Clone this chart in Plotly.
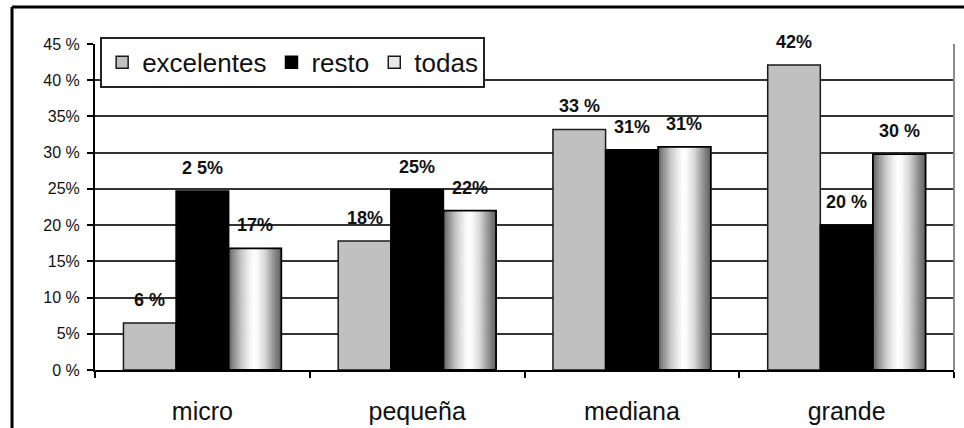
import plotly.graph_objects as go

categories = ["micro", "pequeña", "mediana", "grande"]
excelentes = [6.5, 17.8, 33.2, 42.1]
resto = [24.7, 24.9, 30.4, 20.0]
todas = [16.8, 22.0, 30.8, 29.8]
lab_excelentes = ["6 %", "18%", "33 %", "42%"]
lab_resto = ["2 5%", "25%", "31%", "20 %"]
lab_todas = ["17%", "22%", "31%", "30 %"]
y_ticks = [0, 5, 10, 15, 20, 25, 30, 35, 40, 45]
y_tick_text = ["0 %", "5%", "10 %", "15%", "20 %", "25%", "30 %", "35%", "40 %", "45 %"]

BW = 0.245
OFF = [-1.5 * BW, -0.5 * BW, 0.5 * BW]

# cylinder-like shading profile for "todas" bars (position 0..1 -> grey level)
stops = [(0.0, 90), (0.1, 140), (0.25, 200), (0.4, 240), (0.48, 255), (0.55, 250),
         (0.7, 215), (0.82, 165), (0.92, 125), (1.0, 100)]
N_SLICES = 30


def shade(t):
    for (t0, g0), (t1, g1) in zip(stops[:-1], stops[1:]):
        if t0 <= t <= t1:
            g = g0 + (g1 - g0) * (t - t0) / (t1 - t0)
            g = int(round(g))
            return f"rgb({g},{g},{g})"
    return "rgb(100,100,100)"


FONT = "Liberation Sans, Arial, sans-serif"
fig = go.Figure()

fig.add_trace(go.Bar(x=categories, y=excelentes, name="excelentes", offset=OFF[0], width=BW,
                     marker=dict(color="#c0c0c0", line=dict(color="#1a1a1a", width=1.5))))
fig.add_trace(go.Bar(x=categories, y=resto, name="resto", offset=OFF[1], width=BW,
                     marker=dict(color="#000000", line=dict(color="#000000", width=1.5))))
for k in range(N_SLICES):
    c = shade((k + 0.5) / N_SLICES)
    fig.add_trace(go.Bar(x=categories, y=todas, offset=OFF[2] + k * BW / N_SLICES,
                         width=BW / N_SLICES,
                         marker=dict(color=c, line=dict(color=c, width=1.0)), showlegend=False,
                         hoverinfo="skip"))
fig.add_trace(go.Bar(x=categories, y=todas, name="todas", offset=OFF[2], width=BW,
                     marker=dict(color="rgba(0,0,0,0)", line=dict(color="#000000", width=1.8)),
                     showlegend=False))
# legend entry for todas
fig.add_trace(go.Bar(x=[None], y=[None], name="todas",
                     marker=dict(color="#e8e8e8", line=dict(color="#1a1a1a", width=1.5))))

labels = [(excelentes, lab_excelentes, OFF[0]), (resto, lab_resto, OFF[1]), (todas, lab_todas, OFF[2])]
for vals, labs, off in labels:
    for i, (v, t) in enumerate(zip(vals, labs)):
        fig.add_annotation(x=i + off + BW / 2, y=v, text=t, showarrow=False,
                           xref="x", yref="y", yanchor="bottom", yshift=11,
                           font=dict(family=FONT, size=18, color="#111111", weight="bold"))

# plot area right border
fig.add_shape(type="line", xref="paper", yref="paper", x0=1, x1=1, y0=0, y1=1,
              line=dict(color="#8c8c8c", width=2))
# outer frame (left and top)
fig.add_shape(type="line", xref="paper", yref="paper", x0=-0.0966, x1=-0.0966, y0=-0.2, y1=1.1135,
              line=dict(color="#000000", width=3))
fig.add_shape(type="line", xref="paper", yref="paper", x0=-0.0966, x1=1.03, y0=1.1135, y1=1.1135,
              line=dict(color="#000000", width=3))

fig.update_layout(
    width=964, height=428,
    margin=dict(l=95, r=10, t=44, b=58),
    barmode="overlay",
    paper_bgcolor="white", plot_bgcolor="white",
    font=dict(family=FONT, color="#111111"),
    showlegend=True,
    legend=dict(orientation="h", x=0.006, y=1.022, xanchor="left", yanchor="top",
                bgcolor="white", bordercolor="#222222", borderwidth=2,
                font=dict(family=FONT, size=26, color="#111111"),
                traceorder="normal", itemwidth=30),
)
fig.update_xaxes(type="category", range=[-0.5, 3.5], tickson="boundaries",
                 ticks="outside", ticklen=6, tickcolor="#000000", tickwidth=2,
                 showline=True, linecolor="#000000", linewidth=2,
                 showgrid=False, tickfont=dict(family=FONT, size=25, color="#111111"),
                 ticklabelstandoff=18, automargin=False)
fig.update_yaxes(range=[0, 45], tickmode="array", tickvals=y_ticks, ticktext=y_tick_text,
                 ticks="outside", ticklen=6, tickcolor="#000000", tickwidth=2,
                 showline=True, linecolor="#000000", linewidth=2,
                 showgrid=True, gridcolor="#333333", gridwidth=2, zeroline=False,
                 tickfont=dict(family=FONT, size=16, color="#111111"),
                 ticklabelstandoff=4, automargin=False)

fig.write_html("out.html")
